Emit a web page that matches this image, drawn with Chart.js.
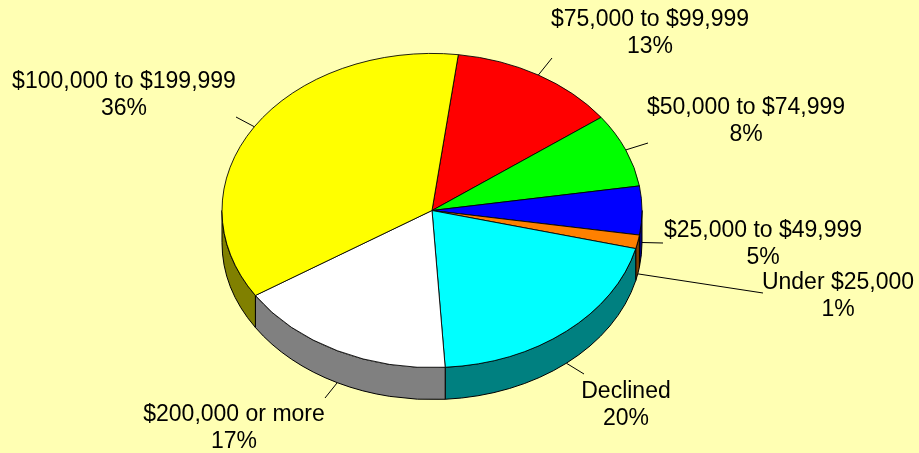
<!DOCTYPE html>
<html>
<head>
<meta charset="utf-8">
<style>
html, body { margin: 0; padding: 0; background: #ffffb3; overflow: hidden; }
canvas { display: block; }
</style>
<script src="https://cdn.jsdelivr.net/npm/chart.js@4"></script>
</head>
<body>
<canvas id="pie" width="919" height="453"></canvas>
<script>
var categories = ['$75,000 to $99,999', '$50,000 to $74,999', '$25,000 to $49,999', 'Under $25,000', 'Declined', '$200,000 or more', '$100,000 to $199,999'];
var shares = [12.9, 7.6, 5, 1.4, 20.1, 16.9, 36.1];
var percentLabels = ['13%', '8%', '5%', '1%', '20%', '17%', '36%'];
var topColors = ['#ff0000', '#00ff00', '#0000ff', '#ff8000', '#00ffff', '#ffffff', '#ffff00'];
var sideColors = ['#800000', '#008000', '#000080', '#804000', '#008080', '#808080', '#808000'];

// label centre and leader end, one per slice
var labelPos = [[650, 20], [746, 108], [763, 231], [838, 283], [626, 392], [234, 415], [124, 82]];
var leaderEnd = [[552, 58], [648, 143], [663, 243], [763, 293], [584, 374], [325, 398], [236, 117]];

var squash = 0.748;
var depth = 32;

var squashPlugin = {
    id: 'squash',
    beforeDatasetDraw: function (chart, args) {
        var ctx = chart.ctx;
        var arcs = args.meta.data;
        var cx = arcs[0].x, cy = arcs[0].y, r = arcs[0].outerRadius;

        // side wall, only the front half shows
        arcs.forEach(function (arc, i) {
            var a = Math.max(arc.startAngle, 0);
            var b = Math.min(arc.endAngle, Math.PI);
            if (b <= a) return;
            ctx.save();
            ctx.beginPath();
            ctx.ellipse(cx, cy, r, r * squash, 0, a, b);
            ctx.ellipse(cx, cy + depth, r, r * squash, 0, b, a, true);
            ctx.closePath();
            ctx.fillStyle = sideColors[i];
            ctx.fill();
            ctx.strokeStyle = '#000';
            ctx.lineWidth = 1;
            ctx.stroke();
            ctx.restore();
        });

        ctx.save();
        ctx.translate(cx, cy);
        ctx.scale(1, squash);
        ctx.translate(-cx, -cy);
    },
    afterDatasetDraw: function (chart, args) {
        var ctx = chart.ctx;
        ctx.restore();

        var arcs = args.meta.data;
        ctx.save();
        ctx.strokeStyle = '#000';
        ctx.lineWidth = 1;
        ctx.fillStyle = '#000';
        ctx.font = '23px "Liberation Sans", Arial, sans-serif';
        ctx.textAlign = 'center';
        ctx.textBaseline = 'middle';
        arcs.forEach(function (arc, i) {
            var mid = (arc.startAngle + arc.endAngle) / 2;
            var sx = arc.x + Math.cos(mid) * arc.outerRadius;
            var sy = arc.y + Math.sin(mid) * arc.outerRadius * squash;
            // leaders on the front start at the bottom rim
            if (Math.sin(mid) > -0.05) sy += depth;
            ctx.beginPath();
            ctx.moveTo(sx, sy);
            ctx.lineTo(leaderEnd[i][0], leaderEnd[i][1]);
            ctx.stroke();
            ctx.fillText(categories[i], labelPos[i][0], labelPos[i][1]);
            ctx.fillText(percentLabels[i], labelPos[i][0], labelPos[i][1] + 27);
        });
        ctx.restore();
    }
};

new Chart(document.getElementById('pie'), {
    type: 'pie',
    data: {
        labels: categories,
        datasets: [{
            data: shares,
            backgroundColor: topColors,
            borderColor: '#000',
            borderWidth: 1,
            clip: false
        }]
    },
    options: {
        responsive: false,
        animation: false,
        rotation: 7.2,
        radius: 210,
        layout: { padding: { right: 55, bottom: 32 } },
        plugins: { legend: { display: false }, tooltip: { enabled: false } }
    },
    plugins: [squashPlugin]
});
</script>
</body>
</html>
